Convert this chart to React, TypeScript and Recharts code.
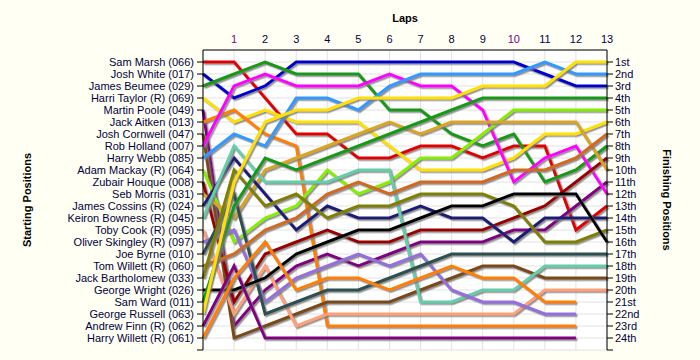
import React from 'react';
import { LineChart, Line, XAxis, YAxis, CartesianGrid } from 'recharts';

const laps = [0, 1, 2, 3, 4, 5, 6, 7, 8, 9, 10, 11, 12, 13];
const lapTicks = [1, 2, 3, 4, 5, 6, 7, 8, 9, 10, 11, 12, 13];
const highlightedLaps = [1, 10];

const drivers = [
  'Sam Marsh (066)',
  'Josh White (017)',
  'James Beumee (029)',
  'Harri Taylor (R) (069)',
  'Martin Poole (049)',
  'Jack Aitken (013)',
  'Josh Cornwell (047)',
  'Rob Holland (007)',
  'Harry Webb (085)',
  'Adam Mackay  (R) (064)',
  'Zubair Houque (008)',
  'Seb Morris (031)',
  'James Cossins (R) (024)',
  'Keiron Bowness  (R) (045)',
  'Toby Cook  (R) (095)',
  'Oliver Skingley  (R) (097)',
  'Joe Byrne (010)',
  'Tom Willett  (R) (060)',
  'Jack Bartholomew (033)',
  'George Wright (026)',
  'Sam Ward (011)',
  'George Russell (063)',
  'Andrew Finn (R) (062)',
  'Harry Willett  (R) (061)',
];

const colors = [
  '#E00000', '#0000CC', '#159A15', '#FFE000', '#800080', '#FF8000',
  '#7A4A12', '#FF00FF', '#3399FF', '#88EE00', '#990000', '#DAA520',
  '#1E1E78', '#66CDAA', '#FFA07A', '#9370DB', '#2F4F4F', '#D2691E',
  '#808000', '#000000', '#159A15', '#FFE000', '#800080', '#FF8000',
];

const finishingLabels = [
  '1st', '2nd', '3rd', '4th', '5th', '6th', '7th', '8th', '9th', '10th', '11th', '12th',
  '13th', '14th', '15th', '16th', '17th', '18th', '19th', '20th', '21st', '22nd', '23rd', '24th',
];

const samMarsh = [1, 1, 4, 7, 7, 9, 9, 8, 8, 9, 8, 8, 15, 13];
const joshWhite = [2, 4, 3, 1, 1, 1, 1, 1, 1, 1, 1, 2, 3, 3];
const jamesBeumee = [3, 2, 1, 2, 2, 2, 5, 5, 7, 8, 7, 11, 10, 8];
const harriTaylor = [4, 6, 5, 6, 6, 6, 8, 10, 10, 10, 9, 7, 7, 6];
const martinPoole = [5, 23, 20, 18, 17, 18, 17, 16, 16, 16, 15, 15, 13, 11];
const jackAitken = [6, 5, 7, 8, 23, 23, 23, 23, 23, 23, 23, 23, 23];
const joshCornwell = [7, 24, 23, 22, 21, 21, 21, 20, 19, 18, 18, 19, 19, 19];
const robHolland = [8, 3, 2, 3, 3, 3, 2, 3, 3, 5, 11, 9, 8, 12];
const harryWebb = [9, 7, 8, 4, 4, 5, 3, 2, 2, 2, 2, 1, 2, 2];
const adamMackay = [10, 16, 14, 13, 10, 12, 11, 9, 9, 7, 5, 5, 5, 5];
const zubairHouque = [11, 21, 17, 16, 15, 16, 16, 15, 15, 15, 14, 13, 11, 9];
const sebMorris = [12, 14, 10, 9, 8, 7, 6, 7, 6, 6, 6, 6, 6, 10];
const jamesCossins = [13, 9, 12, 15, 13, 14, 14, 13, 14, 14, 16, 14, 14, 14];
const keironBowness = [14, 8, 11, 11, 11, 10, 10, 21, 21, 20, 20, 18, 18, 18];
const tobyCook = [15, 22, 18, 23, 22, 22, 22, 22, 22, 22, 22, 20, 20, 20];
const oliverSkingley = [16, 15, 21, 19, 18, 17, 18, 17, 20, 21, 21, 22, 22];
const joeByrne = [17, 12, 22, 21, 20, 20, 19, 18, 17, 17, 17, 17, 17, 17];
const tomWillett = [18, 17, 15, 14, 12, 11, 12, 11, 11, 11, 10, 10, 9, 7];
const jackBartholomew = [19, 10, 13, 12, 14, 13, 13, 12, 12, 12, 13, 16, 16, 15];
const georgeWright = [20, 20, 19, 17, 16, 15, 15, 14, 13, 13, 12, 12, 12, 16];
const samWard = [21, 13, 9, 10, 9, 8, 7, 6, 5, 4, 4, 4, 4, 4];
const georgeRussell = [22, 11, 6, 5, 5, 4, 4, 4, 4, 3, 3, 3, 1, 1];
const andrewFinn = [23, 18, 24, 24, 24, 24, 24, 24, 24, 24, 24, 24, 24];
const harryWillett = [24, 19, 16, 20, 19, 19, 20, 19, 18, 19, 19, 21, 21];

const positions = [
  samMarsh, joshWhite, jamesBeumee, harriTaylor, martinPoole, jackAitken,
  joshCornwell, robHolland, harryWebb, adamMackay, zubairHouque, sebMorris,
  jamesCossins, keironBowness, tobyCook, oliverSkingley, joeByrne, tomWillett,
  jackBartholomew, georgeWright, samWard, georgeRussell, andrewFinn, harryWillett,
];

const positionTicks = [1, 2, 3, 4, 5, 6, 7, 8, 9, 10, 11, 12, 13, 14, 15, 16, 17, 18, 19, 20, 21, 22, 23, 24, 25];

const data = laps.map((lap, i) => {
  const row: Record<string, number | null> = { lap };
  drivers.forEach((d, j) => {
    const v = positions[j][i];
    row['d' + j] = v === undefined ? null : v;
  });
  return row;
});

const TEXT = '#000040';

const LapTick = (props: any) => {
  const { x, y, payload } = props;
  const hl = highlightedLaps.includes(payload.value);
  return (
    <text x={x} y={y} textAnchor="middle" fontSize={11} fill={hl ? '#800080' : TEXT}>
      {payload.value}
    </text>
  );
};

export default function App() {
  return (
    <div style={{ position: 'absolute', left: 0, top: 0, width: 700, height: 360, background: '#FFFFF4', fontFamily: 'Arial, "Liberation Sans", sans-serif' }}>
      <LineChart width={700} height={360} data={data} margin={{ top: 0, right: 0, bottom: 10, left: 0 }}>
        <defs>
          <filter id="lineShadow" x="-10%" y="-10%" width="120%" height="120%">
            <feDropShadow dx="1.5" dy="1.5" stdDeviation="0.6" floodColor="#777" floodOpacity="0.8" />
          </filter>
        </defs>
        <CartesianGrid yAxisId="left" stroke="#E2E2E2" fill="#FFFFFF" />
        <XAxis
          dataKey="lap"
          type="number"
          orientation="top"
          domain={[0, 13]}
          ticks={lapTicks}
          interval={0}
          height={50}
          tickLine={false}
          tickSize={0}
          tickMargin={7}
          axisLine={{ stroke: '#000' }}
          tick={<LapTick />}
          label={{
            content: (p: any) => {
              const vb = p.viewBox || { x: 203, y: 0, width: 404, height: 50 };
              return (
                <text x={vb.x + vb.width / 2} y={22} textAnchor="middle" fontSize={11} fontWeight="bold" fill="#000">
                  Laps
                </text>
              );
            },
          }}
        />
        <YAxis
          yAxisId="left"
          type="number"
          orientation="left"
          reversed
          domain={[0, 25]}
          ticks={positionTicks}
          interval={0}
          width={203}
          tickSize={6}
          tickMargin={3}
          axisLine={{ stroke: '#000' }}
          tickLine={{ stroke: '#000' }}
          tick={{ fill: TEXT, fontSize: 11 }}
          tickFormatter={(v: number) => drivers[v - 1] || ''}
          label={{
            content: (p: any) => {
              const vb = p.viewBox || { x: 0, y: 50, width: 203, height: 300 };
              const cx = vb.x + 28;
              const cy = vb.y + vb.height / 2;
              return (
                <text x={cx} y={cy} transform={`rotate(-90 ${cx} ${cy})`} textAnchor="middle" dominantBaseline="middle" fontSize={11} fontWeight="bold" fill="#000">
                  Starting Positions
                </text>
              );
            },
          }}
        />
        <YAxis
          yAxisId="right"
          type="number"
          orientation="right"
          reversed
          domain={[0, 25]}
          ticks={positionTicks}
          interval={0}
          width={93}
          tickSize={6}
          tickMargin={2}
          axisLine={{ stroke: '#000' }}
          tickLine={{ stroke: '#000' }}
          tick={{ fill: TEXT, fontSize: 11 }}
          tickFormatter={(v: number) => finishingLabels[v - 1] || ''}
          label={{
            content: (p: any) => {
              const vb = p.viewBox || { x: 607, y: 50, width: 93, height: 300 };
              const cx = vb.x + 59;
              const cy = vb.y + vb.height / 2;
              return (
                <text x={cx} y={cy} transform={`rotate(90 ${cx} ${cy})`} textAnchor="middle" dominantBaseline="middle" fontSize={11} fontWeight="bold" fill="#000">
                  Finishing Positions
                </text>
              );
            },
          }}
        />
        {drivers.map((d, j) => (
          <Line
            key={d}
            yAxisId={j % 2 === 0 ? 'left' : 'right'}
            type="linear"
            dataKey={'d' + j}
            name={d}
            stroke={colors[j]}
            strokeWidth={3}
            dot={false}
            activeDot={false}
            connectNulls={false}
            isAnimationActive={false}
            filter="url(#lineShadow)"
          />
        ))}
      </LineChart>
    </div>
  );
}
